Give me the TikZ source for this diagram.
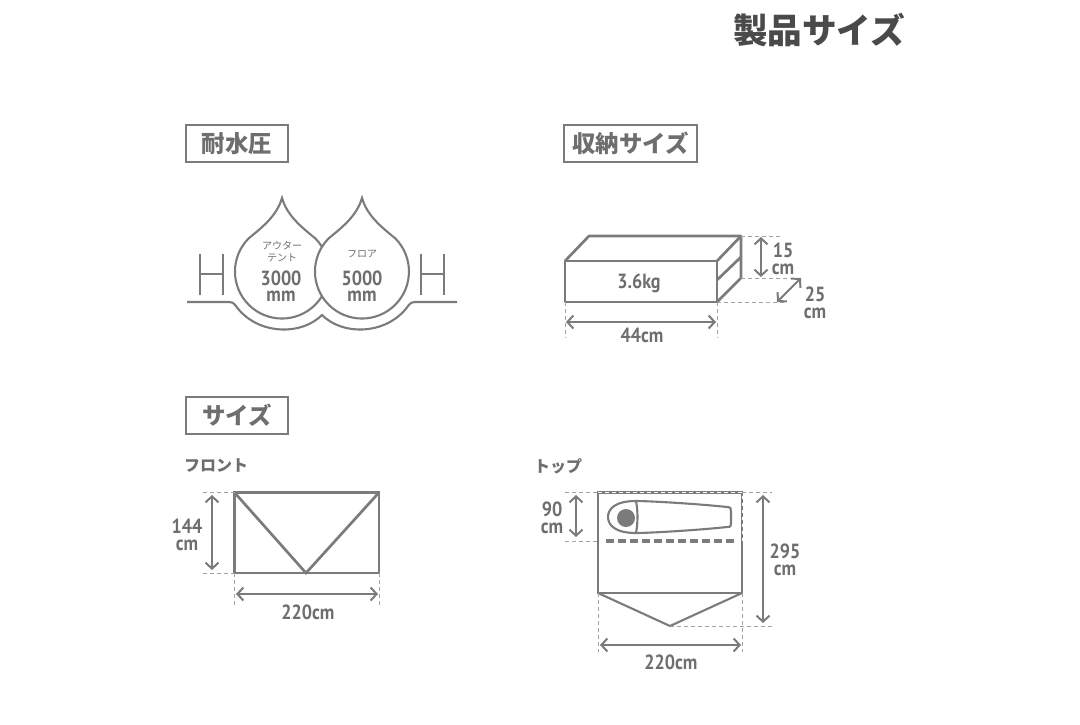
\documentclass[tikz,border=0pt]{standalone}
\usepackage{fontspec}
\setmainfont{PT Sans}
\newfontfamily\jpfont{Noto Sans CJK JP}
\newfontfamily\numfont[FakeStretch=0.88]{PT Sans}
\usetikzlibrary{arrows.meta}
\definecolor{inkgray}{HTML}{7B7B7B}
\definecolor{textgray}{HTML}{6E6E6E}
\definecolor{titlegray}{HTML}{4A4A4A}
\tikzset{
    outline/.style={draw=inkgray,line width=2.7pt},
    thinline/.style={draw=inkgray,line width=2.1pt},
    guide/.style={draw=inkgray!70,line width=0.9pt,dash pattern=on 3.5pt off 3.5pt},
    dimension/.style={draw=inkgray,line width=2pt,{Straight Barb[length=6pt,width=13pt]}-{Straight Barb[length=6pt,width=13pt]}},
    headbox/.style={draw=inkgray,line width=2.4pt,minimum height=37pt,inner sep=0pt,text=textgray,font=\jpfont\bfseries\fontsize{23.4}{23.4}\selectfont},
    viewlabel/.style={text=textgray,inner sep=0pt,font=\jpfont\bfseries\fontsize{16}{16}\selectfont},
    dimlabel/.style={text=textgray,inner sep=0pt,align=center,font=\numfont\bfseries\fontsize{20.5}{16.5}\selectfont},
    smalllabel/.style={text=textgray,inner sep=0pt,align=center,font=\jpfont\fontsize{10}{12}\selectfont}
}
\begin{document}
\begin{tikzpicture}[x=1pt,y=-1pt]
    \useasboundingbox (0,0) rectangle (1080,724);

    % the headings
    \node[text=titlegray,inner sep=0pt,font=\jpfont\bfseries\fontsize{34.6}{34.6}\selectfont] (title) at (819,30) {製品サイズ};
    \node[headbox,minimum width=102pt] (pressure) at (237,143.5) {耐水圧};
    \node[headbox,minimum width=133pt] (packed) at (630.5,143.5) {収納サイズ};
    \node[headbox,minimum width=102pt] (size) at (237,415.5) {サイズ};

    % the two drops and the ground
    \draw[thinline] (187,302) -- (229,302) .. controls (235,302) and (235,306) .. (240,311) .. controls (262,335) and (302,335) .. (322,315) .. controls (342,335) and (382,335) .. (404,311) .. controls (409,306) and (409,302) .. (415,302) -- (457,302);
    \draw[thinline,fill=white] (282,198) .. controls (287,215) and (300,226) .. (315.2,238.3) arc[start angle=45,end angle=-225,radius=47pt] .. controls (264,226) and (277,215) .. (282,198) -- cycle;
    \draw[thinline,fill=white] (362,198) .. controls (367,215) and (380,226) .. (395.2,238.3) arc[start angle=45,end angle=-225,radius=47pt] .. controls (344,226) and (357,215) .. (362,198) -- cycle;
    \draw[thinline] (200,254) -- (200,295) (223,254) -- (223,295) (200,274) -- (223,274);
    \draw[thinline] (421,254) -- (421,295) (444,254) -- (444,295) (421,274) -- (444,274);
    \node[smalllabel] (outer) at (282,252) {アウター\\テント};
    \node[smalllabel] (floor) at (362,254) {フロア};
    \node[dimlabel] (outerval) at (281,286) {3000\\mm};
    \node[dimlabel] (floorval) at (362,286) {5000\\mm};

    % the packed box
    \coordinate (boxa) at (565,261);
    \coordinate (boxb) at (717,261);
    \coordinate (boxc) at (717,302);
    \coordinate (boxd) at (565,302);
    \coordinate (boxe) at (589,236);
    \coordinate (boxf) at (741,236);
    \coordinate (boxg) at (741,278);
    \draw[outline,line join=round] (boxa) -- (boxb) -- (boxc) -- (boxd) -- cycle;
    \draw[outline,line join=round] (boxa) -- (boxe) -- (boxf) -- (boxg) -- (boxc);
    \draw[outline] (boxb) -- (boxf);
    \draw[outline] (717,280) -- (741,257);
    \draw[guide] (boxf) -- (780,236);
    \draw[guide] (boxg) -- (795,278);
    \draw[guide] (boxc) -- (787,302);
    \draw[guide] (boxd) -- (565,338);
    \draw[guide] (boxc) -- (717,338);
    \coordinate (heighttop) at (761,237);
    \coordinate (heightlow) at (761,277);
    \coordinate (depthlow) at (777,302);
    \coordinate (depthtop) at (801,278);
    \coordinate (widthl) at (566,322);
    \coordinate (widthr) at (716,322);
    \draw[dimension] (heighttop) -- (heightlow);
    \draw[dimension] (depthlow) -- (depthtop);
    \draw[dimension] (widthl) -- (widthr);
    \node[dimlabel] (weight) at (639,283) {3.6kg};
    \node[dimlabel] (boxwidth) at (642,335) {44cm};
    \node[dimlabel] (boxheight) at (783,259) {15\\cm};
    \node[dimlabel] (boxdepth) at (815,303) {25\\cm};

    % the front view
    \node[viewlabel] (front) at (216,466) {フロント};
    \coordinate (frontnw) at (234.5,492.5);
    \coordinate (frontne) at (379,492.5);
    \coordinate (frontse) at (379,573);
    \coordinate (frontsw) at (234.5,573);
    \coordinate (frontv) at (306,573);
    \draw[outline] (frontnw) -- (frontne) -- (frontse) -- (frontsw) -- cycle;
    \draw[outline] (frontnw) -- (frontv) -- (frontne);
    \draw[guide] (203,492.5) -- (frontnw);
    \draw[guide] (203,573) -- (frontsw);
    \draw[guide] (frontsw) -- (234.5,606);
    \draw[guide] (frontse) -- (379,606);
    \coordinate (fronttop) at (212,495);
    \coordinate (frontlow) at (212,570);
    \coordinate (frontl) at (236,594);
    \coordinate (frontr) at (378,594);
    \draw[dimension] (fronttop) -- (frontlow);
    \draw[dimension] (frontl) -- (frontr);
    \node[dimlabel] (frontheight) at (187,535) {144\\cm};
    \node[dimlabel] (frontwidth) at (308,612) {220cm};

    % the top view
    \node[viewlabel] (top) at (558,466) {トップ};
    \coordinate (topnw) at (598,492.5);
    \coordinate (topne) at (742,492.5);
    \coordinate (topse) at (742,593);
    \coordinate (topsw) at (598,593);
    \coordinate (topv) at (670,626);
    \draw[outline] (topnw) -- (topne) -- (topse) -- (topsw) -- cycle;
    \draw[thinline] (topsw) -- (topv) -- (topse);
    \draw[guide,draw=white,line width=0.8pt] (topnw) -- (topne) -- (742,541);
    \draw[guide] (565,492.5) -- (topnw);
    \draw[guide] (topne) -- (772,492.5);
    \draw[guide] (565,541) -- (598,541);
    \draw[guide] (topsw) -- (598,652);
    \draw[guide] (topse) -- (742,652);
    \draw[guide] (topv) -- (772,626);
    \draw[draw=inkgray,line width=3.2pt,dash pattern=on 7.5pt off 4.5pt] (606,541) -- (737,541);
    \draw[thinline] (636,501) .. controls (650,501) and (700,504) .. (727,507) .. controls (731,507) and (731,509) .. (731,512) -- (731,522) .. controls (731,526) and (731,527) .. (727,527) .. controls (700,530) and (650,533) .. (636,533) .. controls (615,533) and (608,525) .. (608,517) .. controls (608,509) and (615,501) .. (636,501) -- cycle;
    \draw[thinline] (636,501) .. controls (638,511) and (638,523) .. (636,533);
    \fill[inkgray] (626,518) circle (9pt);
    \coordinate (bandtop) at (576,495);
    \coordinate (bandlow) at (576,537);
    \coordinate (lengthtop) at (763,495);
    \coordinate (lengthlow) at (763,623);
    \coordinate (topl) at (600,645);
    \coordinate (topr) at (741,645);
    \draw[dimension] (bandtop) -- (bandlow);
    \draw[dimension] (lengthtop) -- (lengthlow);
    \draw[dimension] (topl) -- (topr);
    \node[dimlabel] (band) at (552,518) {90\\cm};
    \node[dimlabel] (length) at (785,560) {295\\cm};
    \node[dimlabel] (topwidth) at (671,662) {220cm};
\end{tikzpicture}
\end{document}
